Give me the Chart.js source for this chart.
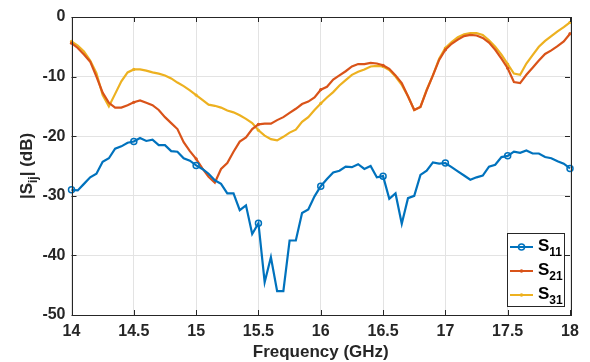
<!DOCTYPE html>
<html>
<head>
<meta charset="utf-8">
<script src="https://cdn.jsdelivr.net/npm/chart.js@4"></script>
<style>
html, body { margin: 0; padding: 0; background: #fff; }
canvas { display: block; }
</style>
</head>
<body>
<canvas id="sChart" width="590" height="362"></canvas>
<script>
// frequency sweep (GHz)
const freq = [
  14.00,14.05,14.10,14.15,14.20,14.25,14.30,14.35,14.40,14.45,
  14.50,14.55,14.60,14.65,14.70,14.75,14.80,14.85,14.90,14.95,
  15.00,15.05,15.10,15.15,15.20,15.25,15.30,15.35,15.40,15.45,
  15.50,15.55,15.60,15.65,15.70,15.75,15.80,15.85,15.90,15.95,
  16.00,16.05,16.10,16.15,16.20,16.25,16.30,16.35,16.40,16.45,
  16.50,16.55,16.60,16.65,16.70,16.75,16.80,16.85,16.90,16.95,
  17.00,17.05,17.10,17.15,17.20,17.25,17.30,17.35,17.40,17.45,
  17.50,17.55,17.60,17.65,17.70,17.75,17.80,17.85,17.90,17.95,
  18.00
];

// S-parameters in dB
const s11 = [
  -29.0,-29.1,-28.0,-26.9,-26.3,-24.3,-23.7,-22.1,-21.7,-21.1,
  -20.9,-20.3,-20.8,-20.6,-21.5,-21.5,-22.5,-22.6,-23.7,-24.1,
  -24.9,-25.5,-26.3,-27.4,-28.0,-29.6,-29.6,-32.4,-31.6,-36.4,
  -34.6,-44.5,-40.3,-46.0,-46.0,-37.5,-37.5,-32.9,-32.3,-30.1,
  -28.4,-27.2,-26.1,-25.8,-25.1,-25.2,-24.7,-25.5,-25.0,-26.9,
  -26.7,-30.5,-29.6,-34.7,-30.4,-30.0,-26.5,-25.8,-24.4,-24.6,
  -24.5,-25.2,-25.9,-26.6,-27.3,-26.9,-26.6,-25.1,-24.8,-23.5,
  -23.3,-22.6,-22.8,-22.4,-22.9,-22.9,-23.5,-23.7,-24.2,-24.6,
  -25.4
];
const s21 = [
  -4.4,-5.2,-6.3,-7.5,-10.0,-12.7,-14.4,-15.2,-15.2,-14.8,
  -14.3,-14.0,-14.4,-14.8,-15.6,-16.8,-17.8,-18.8,-21.0,-22.5,
  -23.8,-25.4,-26.8,-27.8,-25.5,-24.5,-22.6,-20.9,-20.2,-18.8,
  -18.0,-17.9,-17.9,-17.3,-16.8,-16.1,-15.4,-14.6,-14.2,-13.5,
  -12.2,-11.7,-10.5,-9.8,-9.1,-8.3,-7.9,-7.9,-7.7,-7.8,
  -8.1,-8.7,-9.8,-11.1,-13.3,-15.6,-15.1,-12.3,-9.8,-7.2,
  -5.5,-4.5,-3.8,-3.2,-3.0,-3.1,-3.5,-4.3,-5.5,-7.0,
  -8.6,-10.9,-11.1,-9.7,-8.5,-7.3,-6.2,-5.6,-4.9,-4.1,
  -2.8
];
const s31 = [
  -4.1,-4.8,-5.8,-7.3,-9.4,-13.1,-15.0,-12.9,-10.8,-9.3,
  -8.8,-8.8,-9.0,-9.3,-9.5,-9.8,-10.3,-11.0,-11.6,-12.3,
  -13.1,-13.9,-14.7,-14.9,-15.2,-15.7,-16.0,-16.5,-17.1,-17.8,
  -19.0,-19.9,-20.5,-20.7,-20.1,-19.4,-18.9,-17.6,-16.8,-15.6,
  -14.5,-13.5,-12.6,-11.5,-10.6,-9.7,-9.2,-8.8,-8.3,-8.2,
  -8.3,-8.9,-10.0,-11.4,-13.3,-15.6,-15.1,-12.2,-9.8,-7.0,
  -5.2,-4.2,-3.4,-2.9,-2.7,-2.7,-3.0,-3.9,-5.0,-6.3,
  -7.9,-9.5,-9.7,-7.8,-6.4,-5.0,-4.0,-3.2,-2.4,-1.7,
  -0.9
];

const seriesNames = ['11', '21', '31'];
const seriesColors = ['#0072BD', '#D95319', '#EDB120'];
const axisColor = '#262626';
const fontFamily = '"Liberation Sans", Arial, Helvetica, sans-serif';

function toPoints(values) {
  return values.map((v, i) => ({ x: freq[i], y: v }));
}

// marker only every 0.5 GHz
function markerEvery(r) {
  return ctx => (ctx.dataIndex % 10 === 0 ? r : 0);
}

// box around the axes with inward ticks, and the axis titles
const framePlugin = {
  id: 'frame',
  afterDatasetsDraw(chart) {
    const { ctx, chartArea: a, scales } = chart;
    ctx.save();
    ctx.strokeStyle = axisColor;
    ctx.lineWidth = 1;
    ctx.strokeRect(Math.round(a.left) + 0.5, Math.round(a.top) + 0.5,
      Math.round(a.right - a.left), Math.round(a.bottom - a.top));
    const tl = 5;
    ctx.beginPath();
    scales.x.ticks.forEach(t => {
      const px = Math.round(scales.x.getPixelForValue(t.value)) + 0.5;
      ctx.moveTo(px, a.bottom); ctx.lineTo(px, a.bottom - tl);
      ctx.moveTo(px, a.top); ctx.lineTo(px, a.top + tl);
    });
    scales.y.ticks.forEach(t => {
      const py = Math.round(scales.y.getPixelForValue(t.value)) + 0.5;
      ctx.moveTo(a.left, py); ctx.lineTo(a.left + tl, py);
      ctx.moveTo(a.right, py); ctx.lineTo(a.right - tl, py);
    });
    ctx.stroke();

    // x title
    ctx.fillStyle = axisColor;
    ctx.font = 'bold 17px ' + fontFamily;
    ctx.textAlign = 'center';
    ctx.textBaseline = 'middle';
    ctx.fillText('Frequency (GHz)', (a.left + a.right) / 2, 352);

    // y title |S_ij| (dB), rotated
    ctx.translate(26, (a.top + a.bottom) / 2);
    ctx.rotate(-Math.PI / 2);
    const big = 'bold 17px ' + fontFamily;
    const small = 'bold 12px ' + fontFamily;
    ctx.font = big;
    const w1 = ctx.measureText('|S').width;
    const w3 = ctx.measureText('| (dB)').width;
    ctx.font = small;
    const w2 = ctx.measureText('ij').width;
    let x0 = -(w1 + w2 + w3) / 2;
    ctx.textAlign = 'left';
    ctx.textBaseline = 'alphabetic';
    ctx.font = big;
    ctx.fillText('|S', x0, 6);
    ctx.font = small;
    ctx.fillText('ij', x0 + w1, 11);
    ctx.font = big;
    ctx.fillText('| (dB)', x0 + w1 + w2, 6);
    ctx.restore();
  },
  afterDraw(chart) {
    // legend box
    const { ctx } = chart;
    const bx = 507, by = 233, bw = 57, bh = 73;
    ctx.save();
    ctx.fillStyle = '#fff';
    ctx.fillRect(bx, by, bw, bh);
    ctx.strokeStyle = axisColor;
    ctx.lineWidth = 1;
    ctx.strokeRect(bx + 0.5, by + 0.5, bw, bh);
    const rows = [247, 271, 295];
    seriesNames.forEach((name, i) => {
      const y = rows[i];
      ctx.strokeStyle = seriesColors[i];
      ctx.lineWidth = 2;
      ctx.beginPath();
      ctx.moveTo(510, y); ctx.lineTo(533, y);
      ctx.stroke();
      ctx.beginPath();
      if (i === 0) {
        ctx.lineWidth = 1.5;
        ctx.arc(521.5, y, 3, 0, Math.PI * 2);
        ctx.stroke();
      } else {
        ctx.fillStyle = seriesColors[i];
        ctx.arc(521.5, y, 1.8, 0, Math.PI * 2);
        ctx.fill();
      }
      ctx.fillStyle = '#000';
      ctx.textAlign = 'left';
      ctx.textBaseline = 'alphabetic';
      ctx.font = 'bold 17px ' + fontFamily;
      ctx.fillText('S', 538, y + 4);
      const sw = ctx.measureText('S').width;
      ctx.font = 'bold 12px ' + fontFamily;
      ctx.fillText(name, 538 + sw, y + 9);
    });
    ctx.restore();
  }
};

const chartData = {
  datasets: [
    {
      label: 'S11',
      data: toPoints(s11),
      borderColor: seriesColors[0],
      backgroundColor: 'rgba(0,0,0,0)',
      borderWidth: 2.2,
      pointRadius: markerEvery(3),
      pointBorderWidth: 1.5,
      pointBorderColor: seriesColors[0],
      pointBackgroundColor: 'rgba(0,0,0,0)',
      pointHoverRadius: 0
    },
    {
      label: 'S21',
      data: toPoints(s21),
      borderColor: seriesColors[1],
      backgroundColor: seriesColors[1],
      borderWidth: 2.2,
      pointRadius: markerEvery(1.6),
      pointBorderWidth: 0,
      pointBackgroundColor: seriesColors[1],
      pointHoverRadius: 0
    },
    {
      label: 'S31',
      data: toPoints(s31),
      borderColor: seriesColors[2],
      backgroundColor: seriesColors[2],
      borderWidth: 2.2,
      pointRadius: markerEvery(1.6),
      pointBorderWidth: 0,
      pointBackgroundColor: seriesColors[2],
      pointHoverRadius: 0
    }
  ]
};

const config = {
  type: 'line',
  data: chartData,
  options: {
    responsive: false,
    animation: false,
    clip: false,
    layout: { padding: { top: 17, right: 20, left: 0, bottom: 0 } },
    elements: { line: { tension: 0 } },
    plugins: {
      legend: { display: false },
      tooltip: { enabled: false }
    },
    scales: {
      x: {
        type: 'linear',
        min: 14,
        max: 18,
        afterFit: s => { s.height = 47; },
        afterBuildTicks: s => {
          s.ticks = [14, 14.5, 15, 15.5, 16, 16.5, 17, 17.5, 18].map(v => ({ value: v }));
        },
        ticks: {
          color: axisColor,
          font: { family: fontFamily, size: 16, weight: 'bold' },
          padding: 7,
          maxRotation: 0,
          autoSkip: false,
          callback: v => String(v)
        },
        grid: { color: '#e3e3e3', drawTicks: false },
        border: { display: false }
      },
      y: {
        min: -50,
        max: 0,
        afterFit: s => { s.width = 71.5; },
        ticks: {
          stepSize: 10,
          color: axisColor,
          font: { family: fontFamily, size: 16, weight: 'bold' },
          padding: 6
        },
        grid: { color: '#e3e3e3', drawTicks: false },
        border: { display: false }
      }
    }
  },
  plugins: [framePlugin]
};

const chart1 = new Chart(document.getElementById('sChart').getContext('2d'), config);
</script>
</body>
</html>
